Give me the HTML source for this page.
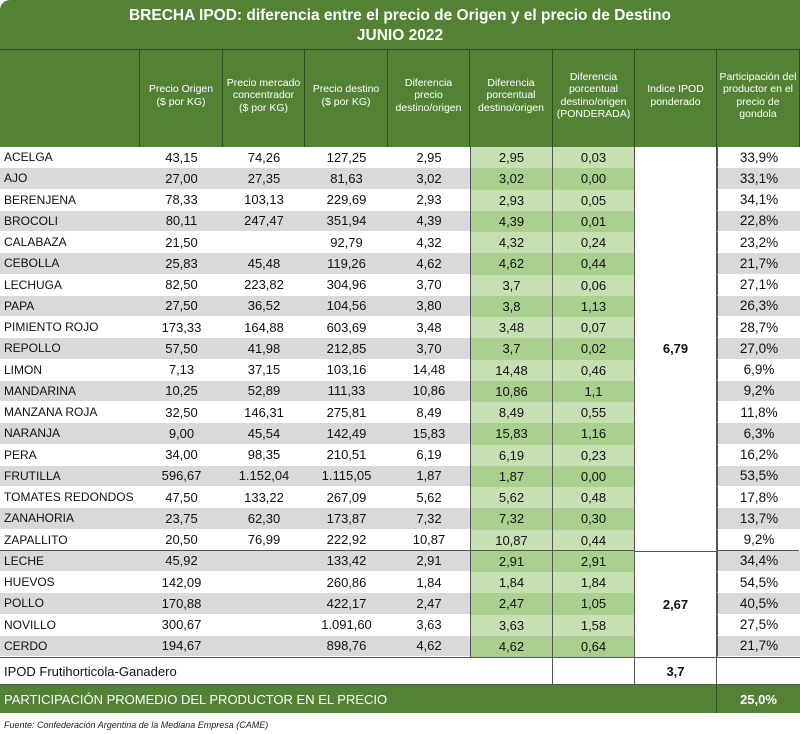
<!DOCTYPE html>
<html><head><meta charset="utf-8"><style>
body{margin:0;background:#fff;width:800px;height:734px;overflow:hidden;font-family:"Liberation Sans",sans-serif;position:relative}
.a{position:absolute;box-sizing:border-box}
.c{display:flex;align-items:center;justify-content:center;text-align:center}
.hd{color:#fff;font-size:10.5px;line-height:12.5px;border-right:1px solid #2f4f1d;padding-bottom:6px}
.cell{font-size:13px;color:#111;display:flex;align-items:center;justify-content:center;text-align:center}
</style></head><body>
<div class="a" style="left:0;top:0;width:800px;height:147px;background:#548235;border-radius:10px 0 0 0"></div>
<div class="a c" style="left:0;top:6px;width:800px;color:#fff;font-weight:bold;font-size:15.5px;line-height:20px;flex-direction:column">
<div>BRECHA IPOD: diferencia entre el precio de Origen y el precio de Destino</div><div>JUNIO 2022</div></div>
<div class="a" style="left:0;top:49px;width:800px;height:1px;background:#2f4f1d"></div>
<div id="t"></div>
<div class="a" style="left:4px;top:720px;font-size:9px;font-style:italic;color:#222">Fuente: Confederación Argentina de la Mediana Empresa (CAME)</div>
<script>
const cols=[0,140,223,305,388,470,553,635,717,800];
const heads=["","Precio Origen<br>($ por KG)","Precio mercado<br>concentrador<br>($ por KG)","Precio destino<br>($ por KG)","Diferencia<br>precio<br>destino/origen","Diferencia<br>porcentual<br>destino/origen","Diferencia<br>porcentual<br>destino/origen<br>(PONDERADA)","Indice IPOD<br>ponderado","Participación del<br>productor en el<br>precio de<br>gondola"];
const names=["ACELGA","AJO","BERENJENA","BROCOLI","CALABAZA","CEBOLLA","LECHUGA","PAPA","PIMIENTO ROJO","REPOLLO","LIMON","MANDARINA","MANZANA ROJA","NARANJA","PERA","FRUTILLA","TOMATES REDONDOS","ZANAHORIA","ZAPALLITO","LECHE","HUEVOS","POLLO","NOVILLO","CERDO"];
const origen=["43,15","27,00","78,33","80,11","21,50","25,83","82,50","27,50","173,33","57,50","7,13","10,25","32,50","9,00","34,00","596,67","47,50","23,75","20,50","45,92","142,09","170,88","300,67","194,67"];
const merc=["74,26","27,35","103,13","247,47","","45,48","223,82","36,52","164,88","41,98","37,15","52,89","146,31","45,54","98,35","1.152,04","133,22","62,30","76,99","","","","",""];
const dest=["127,25","81,63","229,69","351,94","92,79","119,26","304,96","104,56","603,69","212,85","103,16","111,33","275,81","142,49","210,51","1.115,05","267,09","173,87","222,92","133,42","260,86","422,17","1.091,60","898,76"];
const dif=["2,95","3,02","2,93","4,39","4,32","4,62","3,70","3,80","3,48","3,70","14,48","10,86","8,49","15,83","6,19","1,87","5,62","7,32","10,87","2,91","1,84","2,47","3,63","4,62"];
const pct=["2,95","3,02","2,93","4,39","4,32","4,62","3,7","3,8","3,48","3,7","14,48","10,86","8,49","15,83","6,19","1,87","5,62","7,32","10,87","2,91","1,84","2,47","3,63","4,62"];
const pond=["0,03","0,00","0,05","0,01","0,24","0,44","0,06","1,13","0,07","0,02","0,46","1,1","0,55","1,16","0,23","0,00","0,48","0,30","0,44","2,91","1,84","1,05","1,58","0,64"];
const part=["33,9%","33,1%","34,1%","22,8%","23,2%","21,7%","27,1%","26,3%","28,7%","27,0%","6,9%","9,2%","11,8%","6,3%","16,2%","53,5%","17,8%","13,7%","9,2%","34,4%","54,5%","40,5%","27,5%","21,7%"];
const T=document.getElementById('t');
function box(x,y,w,h,html,st,name){const d=document.createElement('div');d.className='a cell';d.style.cssText=`left:${x}px;top:${y}px;width:${w}px;height:${h}px;`+(st||'');d.innerHTML=html;


T.appendChild(d);return d;}
heads.forEach((h,i)=>{const d=box(cols[i],50,cols[i+1]-cols[i],97,h,'',"column-header-"+i);d.classList.add('hd');d.style.fontSize='10.5px';d.style.color='#fff';});
const y0=147,rh=21.25;
names.forEach((n,r)=>{const y=y0+r*rh;const grey=r%2==1;const bg=grey?'#d9d9d9':'#fff';const g=grey?'#a9d08e':'#c6e0b4';
const rowBg=`background:${bg};border-bottom:1px solid #fff;`;
box(0,y,cols[1],rh,n,rowBg+'justify-content:flex-start;padding-left:4px;font-size:12px;',"row-name");
[origen,merc,dest,dif].forEach((a,i)=>box(cols[i+1],y,cols[i+2]-cols[i+1],rh,a[r],rowBg,"cell"));
box(cols[5],y,cols[6]-cols[5],rh,pct[r],`background:${g};border-left:1px solid #555;border-right:1px solid #555;`,"pct-cell");
box(cols[6],y,cols[7]-cols[6],rh,pond[r],`background:${g};border-right:1px solid #555;`,"pond-cell");
box(cols[8],y,cols[9]-cols[8],rh,part[r],rowBg+'border-left:1px solid #555;font-size:13.5px;',"participation-cell");
});
box(cols[7],y0,cols[8]-cols[7],19*rh,"6,79","background:#fff;font-weight:bold;border-right:1px solid #555;","ipod-frut");
box(cols[7],y0+19*rh,cols[8]-cols[7],5*rh,"2,67","background:#fff;font-weight:bold;border-right:1px solid #555;border-top:1px solid #555;","ipod-gan");
box(0,y0+19*rh-1,cols[7],1.5,"","background:#555;","section-divider");
box(cols[8],y0+19*rh-1,82,1.5,"","background:#555;","section-divider");
const yb=y0+24*rh;
box(0,yb,cols[6],28,"IPOD Frutihorticola-Ganadero","justify-content:flex-start;padding-left:4px;border-top:1px solid #555;border-bottom:1px solid #555;border-right:1px solid #555;","ipod-total-label");
box(cols[6],yb,82,28,"","border-top:1px solid #555;border-bottom:1px solid #555;border-right:1px solid #555;","empty");
box(cols[7],yb,82,28,"3,7","font-weight:bold;border-top:1px solid #555;border-bottom:1px solid #555;border-right:1px solid #555;","ipod-total");
box(cols[8],yb,83,28,"","border-top:1px solid #555;border-bottom:1px solid #555;","empty");
box(0,yb+28,cols[8],28,"PARTICIPACIÓN PROMEDIO DEL PRODUCTOR EN EL PRECIO","background:#548235;color:#fff;justify-content:flex-start;padding-left:4px;border-right:1px solid #2f4f1d;","avg-label");
box(cols[8],yb+28,83,28,"25,0%","background:#548235;color:#fff;font-weight:bold;","avg-value");
</script>
</body></html>
